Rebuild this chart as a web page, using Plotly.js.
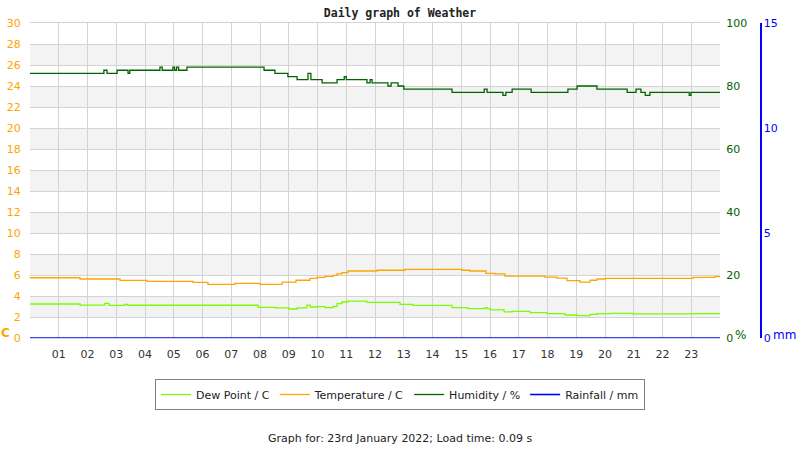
<!DOCTYPE html>
<html>
<head>
<meta charset="utf-8">
<script src="https://cdn.plot.ly/plotly-3.0.1.min.js"></script>
<style>html,body{margin:0;padding:0;background:#fff;}#chart{width:800px;height:450px;}</style>
</head>
<body>
<div id="chart"></div>
<script>
// ---- data (hours since midnight, step series) ----
const hourTicks = [1,2,3,4,5,6,7,8,9,10,11,12,13,14,15,16,17,18,19,20,21,22,23];
const hourLabels = ["01","02","03","04","05","06","07","08","09","10","11","12","13","14","15","16","17","18","19","20","21","22","23"];

const humidityTime = [0, 2.57, 2.68, 3.03, 3.41, 3.47, 4.52, 4.6, 4.97, 5.03, 5.1, 5.17, 5.46, 8.14, 8.52, 8.97, 9.29, 9.67, 9.77, 10.16, 10.68, 10.93, 11.0, 11.72, 11.83, 11.9, 12.45, 12.56, 12.8, 13.0, 14.68, 15.8, 15.9, 16.45, 16.55, 16.77, 17.43, 18.71, 19.03, 19.72, 20.77, 21.08, 21.25, 21.4, 21.56, 22.93, 22.99, 24];
const humidity     = [84, 85, 84, 85, 84, 85, 86, 85, 86, 85, 86, 85, 86, 85, 84, 83, 82, 84, 82, 81, 82, 83, 82, 81, 82, 81, 80, 81, 80, 79, 78, 79, 78, 77, 78, 79, 78, 79, 80, 79, 78, 79, 78, 77, 78, 77, 78, 78];

const tempTime = [0, 1.74, 3.13, 4.07, 5.67, 6.19, 7.13, 8.0, 8.77, 9.25, 9.74, 9.98, 10.26, 10.54, 10.68, 10.85, 11.06, 12.07, 13.04, 15.03, 15.3, 15.86, 16.17, 16.52, 17.91, 18.33, 18.68, 19.13, 19.48, 19.72, 20.0, 23.06, 23.83, 24];
const temperature = [5.74, 5.62, 5.49, 5.4, 5.3, 5.11, 5.2, 5.11, 5.33, 5.5, 5.68, 5.78, 5.87, 5.96, 6.1, 6.22, 6.38, 6.45, 6.54, 6.45, 6.38, 6.16, 6.1, 5.9, 5.8, 5.71, 5.46, 5.33, 5.5, 5.62, 5.68, 5.78, 5.84, 5.84];

const dewTime = [0, 1.74, 2.6, 2.75, 3.3, 3.4, 7.93, 8.52, 9.01, 9.29, 9.63, 9.75, 9.98, 10.26, 10.54, 10.68, 10.85, 11.06, 11.72, 12.87, 13.32, 14.68, 15.23, 15.83, 15.9, 16.0, 16.49, 16.77, 17.39, 17.98, 18.61, 19.03, 19.48, 19.72, 20.17, 20.97, 23.06, 24];
const dewPoint = [3.24, 3.14, 3.29, 3.1, 3.2, 3.12, 2.92, 2.86, 2.76, 2.86, 3.14, 2.95, 2.98, 2.89, 3.0, 3.27, 3.43, 3.52, 3.4, 3.21, 3.11, 2.89, 2.79, 2.9, 2.79, 2.67, 2.48, 2.54, 2.41, 2.32, 2.19, 2.13, 2.25, 2.32, 2.35, 2.29, 2.32, 2.32];

const rainTime = [0, 24];
const rainfall = [0, 0];

const titleText = "Daily graph of Weather";
const footerText = "Graph for: 23rd January 2022; Load time: 0.09 s";

// ---- chart ----
const font = "DejaVu Sans, sans-serif";
const traces = [
  {x: dewTime, y: dewPoint, name: "Dew Point / C", type: "scatter", mode: "lines",
   line: {shape: "hv", color: "#7cfc00", width: 1.3}, yaxis: "y"},
  {x: tempTime, y: temperature, name: "Temperature / C", type: "scatter", mode: "lines",
   line: {shape: "hv", color: "#ffa500", width: 1.3}, yaxis: "y"},
  {x: humidityTime, y: humidity, name: "Humidity / %", type: "scatter", mode: "lines",
   line: {shape: "hv", color: "#006400", width: 1.3}, yaxis: "y2"},
  {x: rainTime, y: rainfall, name: "Rainfall / mm", type: "scatter", mode: "lines",
   line: {shape: "hv", color: "#0000ff", width: 1.6}, yaxis: "y3", cliponaxis: false}
];

const bands = [];
for (let v = 2; v < 30; v += 4) {
  bands.push({type: "rect", xref: "x", yref: "y", x0: 0, x1: 24, y0: v, y1: v + 2,
    fillcolor: "#f3f3f3", line: {width: 0}, layer: "below"});
}

// plot area in pixels: x 30..720 (paper 30..760), y 23..338
const PW = 730, PH = 315;
const layout = {
  width: 800, height: 450,
  margin: {l: 30, r: 40, t: 23, b: 112},
  paper_bgcolor: "#ffffff", plot_bgcolor: "#ffffff",
  font: {family: font, size: 11, color: "#333"},
  title: {text: "<b>" + titleText + "</b>", x: 0.5, xref: "container", xanchor: "center",
    y: 1 - 13/450, yref: "container", yanchor: "middle",
    font: {family: "DejaVu Sans Mono, monospace", size: 11.5, color: "#222"}},
  showlegend: true,
  legend: {orientation: "h", x: 0.5, xref: "container", xanchor: "center",
    y: 1 - 394.5/450, yref: "container", yanchor: "middle",
    bordercolor: "#808080", borderwidth: 1, font: {family: font, size: 11, color: "#222"},
    itemwidth: 30, tracegroupgap: 0},
  xaxis: {domain: [0, 690/PW], range: [0, 24], tickvals: hourTicks, ticktext: hourLabels,
    showgrid: true, gridcolor: "#d3d3d3", gridwidth: 1, zeroline: false,
    showline: true, linecolor: "#d3d3d3", mirror: true,
    ticks: "outside", ticklen: 6, tickcolor: "rgba(0,0,0,0)",
    tickfont: {family: font, size: 11, color: "#333"}, fixedrange: true},
  yaxis: {range: [0, 30], dtick: 2, tick0: 0, showgrid: true, gridcolor: "#d3d3d3", zeroline: false,
    ticks: "outside", ticklen: 6, tickcolor: "rgba(0,0,0,0)",
    tickfont: {family: font, size: 11, color: "#ffa500"}},
  yaxis2: {range: [0, 100], dtick: 20, tick0: 0, overlaying: "y", side: "right", anchor: "x",
    showgrid: false, zeroline: false, ticks: "outside", ticklen: 3, tickcolor: "rgba(0,0,0,0)",
    tickfont: {family: font, size: 11, color: "#006400"}},
  yaxis3: {range: [0, 15], dtick: 5, tick0: 0, overlaying: "y", side: "right", anchor: "free", position: 1,
    showgrid: false, zeroline: false, showline: true, linecolor: "#0000ff", linewidth: 1.5,
    ticks: "", tickfont: {family: font, size: 11, color: "#0000ff"}},
  shapes: bands,
  annotations: [
    {text: "<b>C</b>", xref: "paper", yref: "paper", x: -25/PW, y: 5/PH, xanchor: "center", yanchor: "middle",
     showarrow: false, font: {family: font, size: 12, color: "#ffa500"}},
    {text: "%", xref: "paper", yref: "paper", x: 710/PW, y: 3/PH, xanchor: "center", yanchor: "middle",
     showarrow: false, font: {family: font, size: 12, color: "#006400"}},
    {text: "mm", xref: "paper", yref: "paper", x: 755/PW, y: 3/PH, xanchor: "center", yanchor: "middle",
     showarrow: false, font: {family: font, size: 12, color: "#0000ff"}},
    {text: footerText, xref: "paper", yref: "paper", x: 370/PW, y: -100/PH,
     xanchor: "center", yanchor: "middle", showarrow: false,
     font: {family: font, size: 11, color: "#222"}}
  ]
};

Plotly.newPlot("chart", traces, layout, {displayModeBar: false, staticPlot: true});
</script>
</body>
</html>
